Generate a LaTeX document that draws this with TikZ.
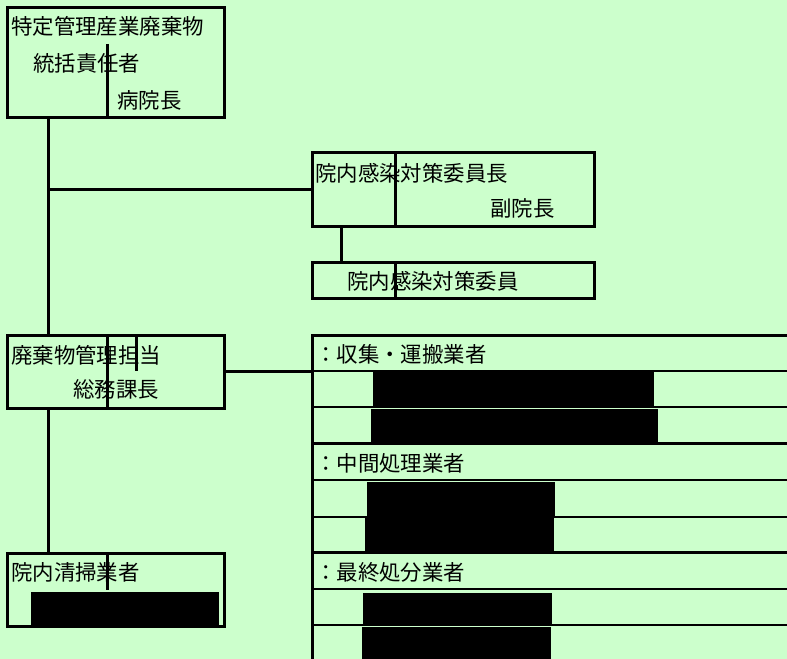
\documentclass[tikz,border=0pt]{standalone}
\usepackage{fontspec}
\newfontfamily\jpfont{Noto Sans CJK JP}
\definecolor{bg}{HTML}{CCFFCC}
\begin{document}
\begin{tikzpicture}[x=1bp,y=-1bp,
  box/.style={draw, line width=3bp, inner sep=0, outer sep=0},
  lbl/.style={anchor=west, inner sep=0, font=\jpfont\fontsize{21.5}{22}\selectfont},
  conn/.style={line width=3bp},
  thinrule/.style={line width=1.5bp},
  thickrule/.style={line width=3bp},
  redact/.style={fill=black}]
\fill[bg] (0,0) rectangle (787,659);
\useasboundingbox (0,0) rectangle (787,659);

% boxes
\node[box, minimum width=216bp, minimum height=109bp] (b1) at (116,62.5) {};
\node[box, minimum width=282bp, minimum height=73bp] (b2) at (453,189.5) {};
\node[box, minimum width=282bp, minimum height=36bp] (b3) at (453,280) {};
\node[box, minimum width=216bp, minimum height=73bp] (b4) at (116,371.5) {};
\node[box, minimum width=216bp, minimum height=73bp] (b5) at (116,589.5) {};
\node[box, minimum width=478bp, minimum height=327bp] (tbl) at (551,498.5) {};

% inner dividers
\draw[conn] (107,44) -- (107,117);
\draw[conn] (395,153) -- (395,226);
\draw[conn] (395,262) -- (395,298);
\draw[conn] (107,335) -- (107,408);
\draw[conn] (136,335) -- (136,371);
\draw[conn] (107,553) -- (107,590);

% table rules
\foreach \yy in {371,407,480,517,589,625} \draw[thinrule] (312,\yy) -- (787,\yy);
\foreach \yy in {443,552} \draw[thickrule] (312,\yy) -- (787,\yy);

% connectors
\coordinate (j1) at (49,189.5);
\draw[conn] ([xshift=-67bp]b1.south) -- ([xshift=-67bp]b4.north);
\draw[conn] (j1) -- (b2.west);
\draw[conn] ([xshift=-112bp]b2.south) -- ([xshift=-112bp]b3.north);
\draw[conn] (b4.east) -- (b4.east -| tbl.west);
\draw[conn] ([xshift=-67bp]b4.south) -- ([xshift=-67bp]b5.north);

% texts
\node[lbl] (t1) at (11,26) {特定管理産業廃棄物};
\node[lbl] (t2) at (33,63) {統括責任者};
\node[lbl] (t3) at (117,100) {病院長};
\node[lbl] (t4) at (315,173) {院内感染対策委員長};
\node[lbl] (t5) at (490,208) {副院長};
\node[lbl] (t6) at (347,281) {院内感染対策委員};
\node[lbl] (t7) at (11,355) {廃棄物管理担当};
\node[lbl] (t8) at (73,389) {総務課長};
\node[lbl] (t9) at (11,572) {院内清掃業者};
\node[lbl] (h1) at (315,354) {：収集・運搬業者};
\node[lbl] (h2) at (315,463) {：中間処理業者};
\node[lbl] (h3) at (315,572) {：最終処分業者};

% redactions
\fill[redact] (373,372) rectangle (654,406);
\fill[redact] (371,409) rectangle (658,443);
\fill[redact] (367,482) rectangle (555,516);
\fill[redact] (365,517) rectangle (554,551);
\fill[redact] (363,593) rectangle (552,625);
\fill[redact] (362,627) rectangle (551,659);
\fill[redact] (31,592) rectangle (219,626);
\end{tikzpicture}
\end{document}
